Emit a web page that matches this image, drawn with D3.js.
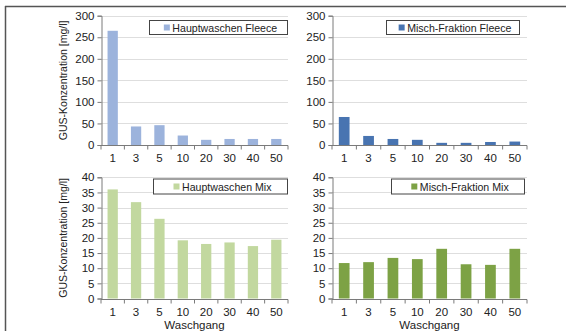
<!DOCTYPE html>
<html>
<head>
<meta charset="utf-8">
<script src="https://cdn.jsdelivr.net/npm/d3@7"></script>
<style>
  body { margin: 0; background: #fff; }
  svg text { font-family: "Liberation Sans", Arial, sans-serif; fill: #222; }
</style>
</head>
<body>
<div id="chart"></div>
<script>
var waschgang = ["1", "3", "5", "10", "20", "30", "40", "50"];
var hauptFleece = [265, 43, 46, 22, 12, 14, 14, 14];
var mischFleece = [65, 21, 14, 12, 5, 5, 7, 8];
var hauptMix = [36, 31.8, 26.3, 19.2, 18, 18.5, 17.3, 19.4];
var mischMix = [11.7, 12, 13.4, 13, 16.4, 11.3, 11.1, 16.4];
var fleeceTicks = [0, 50, 100, 150, 200, 250, 300];
var mixTicks = [0, 5, 10, 15, 20, 25, 30, 35, 40];

var width = 566, height = 331;
var svg = d3.select("#chart").append("svg")
  .attr("width", width).attr("height", height);

// outer frame (top and left only visible)
svg.append("line").attr("x1", 5).attr("x2", width).attr("y1", 6.5).attr("y2", 6.5)
  .attr("stroke", "#555").attr("stroke-width", 1.5);
svg.append("line").attr("x1", 5.5).attr("x2", 5.5).attr("y1", 6).attr("y2", height)
  .attr("stroke", "#555").attr("stroke-width", 1.5);

var panels = [
  {name: "Hauptwaschen Fleece", data: hauptFleece, ticks: fleeceTicks, max: 300, color: "#9cb3dc",
   x0: 101, x1: 288, yTop: 15.7, yBot: 145, leg: [149, 20, 138, 14], yTitle: true, xTitle: false},
  {name: "Misch-Fraktion Fleece", data: mischFleece, ticks: fleeceTicks, max: 300, color: "#4874b1",
   x0: 332, x1: 527, yTop: 15.7, yBot: 145, leg: [386, 20, 133, 14], yTitle: false, xTitle: false},
  {name: "Hauptwaschen Mix", data: hauptMix, ticks: mixTicks, max: 40, color: "#c2d89f",
   x0: 101, x1: 288, yTop: 177.3, yBot: 298.5, leg: [153, 178.5, 134, 15], yTitle: true, xTitle: true},
  {name: "Misch-Fraktion Mix", data: mischMix, ticks: mixTicks, max: 40, color: "#7da245",
   x0: 332, x1: 527, yTop: 177.3, yBot: 298.5, leg: [391, 178.5, 133, 15], yTitle: false, xTitle: true}
];

panels.forEach(function(p){
  var g = svg.append("g");
  var x = d3.scaleBand().domain(waschgang).range([p.x0, p.x1]).paddingInner(0.56).paddingOuter(0.28);
  var xb = d3.scaleBand().domain(waschgang).range([p.x0, p.x1]);
  var y = d3.scaleLinear().domain([0, p.max]).range([p.yBot, p.yTop]);

  // gridlines
  g.append("g").selectAll("line")
    .data(p.ticks.slice(1))
    .enter().append("line")
    .attr("x1", p.x0).attr("x2", p.x1)
    .attr("y1", function(d){ return Math.round(y(d)) + 0.5; })
    .attr("y2", function(d){ return Math.round(y(d)) + 0.5; })
    .attr("stroke", "#dedede").attr("stroke-width", 1);

  // bars
  g.append("g").selectAll("rect")
    .data(p.data)
    .enter().append("rect")
    .attr("x", function(d, i){ return x(waschgang[i]); })
    .attr("width", x.bandwidth())
    .attr("y", function(d){ return y(d); })
    .attr("height", function(d){ return p.yBot - y(d); })
    .attr("fill", p.color);

  // y axis
  var yAxis = g.append("g")
    .attr("transform", "translate(" + (p.x0 + 0.5) + ",0)")
    .call(d3.axisLeft(y).tickValues(p.ticks).tickSize(4).tickPadding(3));
  yAxis.select(".domain").attr("stroke", "#7a7a7a");
  yAxis.selectAll(".tick line").attr("stroke", "#7a7a7a");
  yAxis.selectAll("text").style("font-size", "11.5px").attr("fill", "#222");

  // x axis: ticks between categories
  var xAxisG = g.append("g").attr("transform", "translate(0," + (Math.round(p.yBot) + 0.5) + ")");
  xAxisG.append("line").attr("x1", p.x0).attr("x2", p.x1).attr("stroke", "#7a7a7a");
  xAxisG.selectAll("line.tk")
    .data(waschgang.concat(["end"]))
    .enter().append("line").attr("class", "tk")
    .attr("x1", function(d, i){ return i < waschgang.length ? xb(d) : p.x1; })
    .attr("x2", function(d, i){ return i < waschgang.length ? xb(d) : p.x1; })
    .attr("y1", 0).attr("y2", 4)
    .attr("stroke", "#7a7a7a");
  xAxisG.selectAll("text")
    .data(waschgang)
    .enter().append("text")
    .attr("x", function(d){ return xb(d) + xb.bandwidth() / 2; })
    .attr("y", 16)
    .attr("text-anchor", "middle")
    .style("font-size", "11.5px")
    .text(function(d){ return d; });

  if (p.xTitle) {
    g.append("text")
      .attr("x", (p.x0 + p.x1) / 2).attr("y", 329)
      .attr("text-anchor", "middle")
      .style("font-size", "11.5px")
      .text("Waschgang");
  }
  if (p.yTitle) {
    g.append("text")
      .attr("transform", "translate(67," + ((p.yTop + p.yBot) / 2) + ") rotate(-90)")
      .attr("text-anchor", "middle")
      .style("font-size", "10.5px")
      .text("GUS-Konzentration [mg/l]");
  }

  // legend, content centred in its box
  var lg = g.append("g");
  lg.append("rect")
    .attr("x", p.leg[0] + 0.5).attr("y", p.leg[1] + 0.5)
    .attr("width", p.leg[2]).attr("height", p.leg[3])
    .attr("fill", "#fff").attr("stroke", "#444").attr("stroke-width", 1);
  var inner = lg.append("g");
  inner.append("rect")
    .attr("x", 0).attr("y", p.leg[1] + p.leg[3] / 2 - 2.5)
    .attr("width", 6).attr("height", 6)
    .attr("fill", p.color);
  var lt = inner.append("text")
    .attr("x", 8.5).attr("y", p.leg[1] + p.leg[3] / 2 + 4.5)
    .style("font-size", "10.6px")
    .text(p.name);
  var contentW = 8.5 + lt.node().getComputedTextLength();
  inner.attr("transform", "translate(" + (p.leg[0] + (p.leg[2] - contentW) / 2 + 2.5) + ",0)");
});
</script>
</body>
</html>
